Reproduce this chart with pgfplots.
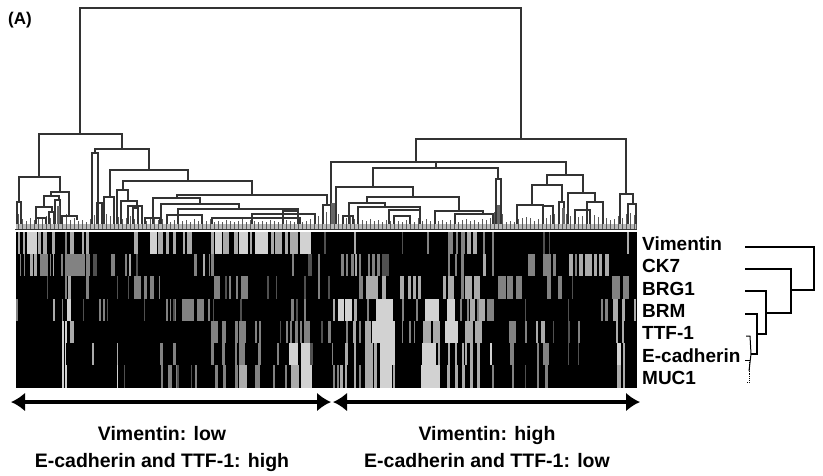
\documentclass[border=0pt]{standalone}
\usepackage{fontspec}
\setmainfont{Liberation Sans}
\usepackage{pgfplots}
\pgfplotsset{compat=1.18}
\usetikzlibrary{arrows.meta}
\definecolor{cW}{HTML}{D2D2D2}
\definecolor{cL}{HTML}{ABABAB}
\definecolor{cM}{HTML}{828282}
\definecolor{cD}{HTML}{505050}
\definecolor{den}{HTML}{333333}
% one heat-map row: colour, y centre, table of "x width"
\newcommand\hrow[3]{\addplot[draw=none,mark=none,forget plot,
  error bars/.cd,x dir=plus,x explicit,error mark=none,
  error bar style={draw=#1,line width=22.2pt,solid,line cap=butt}]
  table[row sep=\\,header=false,x index=0,x error index=1,y expr=#2]{#3};}
% one dendrogram node: xleft yleft ynode xright yright
\newcommand\den[5]{\addplot[den,line width=1.25pt,forget plot] coordinates {(#1,#2)(#1,#3)(#4,#3)(#4,#5)};}
\begin{document}
\begin{tikzpicture}
\begin{axis}[width=823pt,height=475pt,scale only axis,ticks=none,axis line style={draw=none},
  xmin=0,xmax=823,ymin=0,ymax=475,y dir=reverse,clip=false]
% heat-map background
\addplot[fill=black,draw=none,forget plot] coordinates {(16,232)(637,232)(637,388)(16,388)} --cycle;
% Vimentin
\hrow{cL}{243}{18.3 2\\22.7 2\\38 3\\43 4\\52 3\\70 4\\81.7 2\\86 3\\134 4\\158 5\\166 3\\172.7 3\\182.7 2\\186.7 5\\210.7 3\\223 6\\234 4\\250 2\\270.7 3\\275 7\\285 3\\290 8\\354 2\\467 4\\473 4\\627 2\\}
\hrow{cW}{243}{26.7 10\\150 7\\215 7\\239 9\\255 13\\300 11\\}
\hrow{cM}{243}{65 1.5\\427 2\\448 5\\456 2\\461 4\\483 2\\492 2\\}
\hrow{cD}{243}{324 2\\402 1\\543 2\\549 1\\}
% CK7
\hrow{cL}{265}{29.5 3\\34 3\\52.5 1.5\\129 2\\203 2\\318 2\\355 1.5\\483 3\\569 4\\579 4\\585 7\\594 3\\599 3\\605 4\\}
\hrow{cM}{265}{19.5 1.5\\23.5 1.5\\40 8\\49.5 1\\61 2\\65 20\\86 4\\111 4\\125 1.5\\194 2.5\\208.5 1.5\\211 2.5\\292 1.5\\318 2\\341 2.5\\346 2\\351 3\\359 2\\367.5 2.5\\372 3\\377 3\\448 1.5\\455 1.5\\461 3\\492 1.5\\528 7\\543 8\\553 2.5\\575 2\\}
\hrow{cD}{265}{93 4\\136 2\\308 4\\382 7\\}
% BRG1
\hrow{cL}{287.5}{68 2.5\\366 12\\382 4\\400 4\\408 3\\413 3\\418 3\\443 3\\448 6\\465 7\\474 6\\498 2\\}
\hrow{cM}{287.5}{65 1.5\\86 3\\134 7\\144 3\\150 4\\158.5 1.5\\214 6\\229 1.5\\236 2\\241 7\\318 1.5\\359 4\\461 3\\498 8\\507 6\\516 2.5\\519 3\\547 4\\558 4\\612 8\\623 6\\}
\hrow{cD}{287.5}{47 1\\116.7 1\\128 1\\225 1.5\\267 1.5\\276 1\\304 2\\328 1.5\\572 1\\}
% BRM
\hrow{cW}{310}{67 3.5\\333 2\\337.5 6\\345 7\\376 17\\425 14\\447 8\\}
\hrow{cL}{310}{52.7 2\\333 2\\354 3\\470 5\\479 6\\613 5\\622 3\\634 2\\}
\hrow{cM}{310}{16 1.5\\61.7 1\\99 2\\103 1.5\\166 1.5\\169.5 1\\174 1.5\\182 6.5\\189 5\\197 7\\208 2\\291 3\\304 2\\367 2\\402 1.5\\416 1.5\\460 1.5\\467 1.5\\477 1.5\\487 7\\490 3\\601 1.5\\605 3\\}
\hrow{cD}{310}{83 1\\107 1\\144 1\\173 1.5\\213 1\\240 1.5\\296 1.5\\525 1\\568 1\\}
% TTF-1
\hrow{cW}{332}{62 1.5\\65 1.5\\372 23\\445 13\\}
\hrow{cL}{332}{69.5 4\\353 3\\365 6\\423 8\\433 7\\465 8\\475 7\\536 1.5\\541 4\\616 2\\622 2\\}
\hrow{cM}{332}{211 7\\222 4\\235 3\\239 7\\255 2\\259 1.5\\286 1.5\\290 1.5\\295 3\\300 2\\304 6\\328 3\\346 1.5\\359 2\\402 1\\409 1.5\\413.5 1.5\\509 7\\525 1.5\\578 1.5\\}
\hrow{cD}{332}{280 1\\321 1.5\\553 1\\568 1.5\\}
% E-cadherin
\hrow{cW}{354}{62 1.5\\65 1\\289 9\\301 9\\380 15\\422 14\\490 1.5\\617 4\\}
\hrow{cL}{354}{92 2\\117 1\\345 2.5\\354 2\\365 8\\374 3\\438 1.5\\448 2\\455 2\\462 2\\465 2\\470 3\\477 3\\623 1.5\\}
\hrow{cM}{354}{160 3\\173 1.5\\174 1.5\\211 2.5\\222 2.5\\235 1.5\\239 6\\258 3\\277 2\\332 1\\510 4\\537 1.5\\543 6\\}
\hrow{cD}{354}{310 3\\568 1\\578 1\\}
% MUC1
\hrow{cW}{376.5}{62 1.5\\65 1.5\\117 1\\301 11\\380 12\\421 19\\}
\hrow{cL}{376.5}{239 8\\291 8\\333 2\\340 3\\345 2\\354 2\\365 8\\374 3\\393 2\\447 3\\455 3\\462 3\\470 3\\477 3\\617 4\\623 1.5\\}
\hrow{cM}{376.5}{161 2\\168 3.5\\176 2\\170 1.5\\195 1.5\\215 3\\223 3\\235 2.5\\255 5\\273 1.5\\285 2\\333 1.5\\337 1.5\\359 1.5\\492 2\\512 2\\537 1.5\\545 3\\}
\hrow{cD}{376.5}{124 1\\177 1.5\\191 1\\525 1\\}
% leaf band of the upper dendrogram
\addplot[fill=gray!55,draw=none,forget plot] coordinates {(16,224)(637,224)(637,229)(16,229)} --cycle;
\addplot[draw=none,mark=none,forget plot,error bars/.cd,y dir=plus,y explicit,error mark=none,
  error bar style={draw=gray!70!black,line width=1pt,solid}]
  table[row sep=\\,header=false,x index=0,y index=1,y error expr=229-\thisrowno{1}]{
18 214\\22 219\\26 221\\30 218\\34 220\\38 217\\42 219\\46 216\\50 218\\54 214\\58 212\\62 218\\66 214\\70 220\\74 218\\78 221\\82 220\\86 222\\90 219\\94 215\\98 213\\102 216\\106 214\\110 216\\114 215\\118 217\\122 219\\126 218\\130 216\\134 219\\138 218\\142 219\\146 221\\150 219\\154 218\\158 220\\162 219\\166 221\\170 222\\174 220\\178 220\\182 221\\186 220\\190 222\\194 219\\198 221\\202 222\\206 221\\210 219\\214 222\\218 221\\222 222\\226 220\\230 221\\234 222\\238 221\\242 219\\246 222\\250 220\\254 221\\258 222\\262 221\\266 222\\270 220\\274 221\\278 222\\282 221\\286 220\\290 221\\294 222\\298 220\\302 222\\306 221\\310 219\\314 217\\318 216\\322 215\\326 212\\330 214\\334 210\\338 214\\342 217\\346 218\\350 216\\354 219\\358 217\\362 220\\366 221\\370 219\\374 221\\378 220\\382 222\\386 220\\390 221\\394 219\\398 221\\402 222\\406 220\\410 221\\414 222\\418 218\\422 221\\426 219\\430 221\\434 219\\438 221\\442 220\\446 222\\450 220\\454 221\\458 222\\462 220\\466 219\\470 221\\474 220\\478 222\\482 219\\486 220\\490 218\\494 212\\498 208\\502 214\\506 222\\510 221\\514 222\\518 219\\522 218\\526 217\\530 218\\534 221\\538 219\\542 220\\546 218\\550 215\\554 214\\558 216\\562 210\\566 214\\570 216\\574 218\\578 217\\582 216\\586 218\\590 216\\594 215\\598 217\\602 216\\606 218\\610 220\\614 219\\618 216\\622 218\\626 214\\630 213\\634 215\\636 218\\}; 
\addplot[den,line width=1.6pt,forget plot] coordinates {(15,229.5)(637,229.5)};
% upper dendrogram
\den{80}{134}{8}{521}{139}
\den{39}{177}{134}{122}{149}
\den{19}{202}{177}{60}{192}
\den{51}{196}{192}{69}{216}
\den{44}{207}{196}{59}{200}
\den{36}{222}{207}{52}{212}
\den{49}{224}{212}{54}{224}
\den{55}{224}{200}{60}{224}
\den{17}{224}{202}{21}{224}
\den{62}{224}{216}{77}{220}
\den{36}{224}{218}{46}{224}
\den{95}{153}{149}{149}{170}
\den{92}{224}{153}{98}{224}
\den{110}{197}{170}{188}{181}
\den{104}{224}{197}{114}{224}
\den{97}{224}{203}{102}{224}
\den{123}{190}{181}{252}{195}
\den{117}{224}{190}{128}{201}
\den{121}{224}{201}{137}{206}
\den{128}{224}{206}{142}{224}
\den{133}{224}{208}{138}{224}
\den{177}{198}{195}{327}{205}
\den{153}{224}{198}{200}{204}
\den{161}{224}{204}{239}{209}
\den{178}{224}{209}{298}{211}
\den{167}{224}{215}{202}{224}
\den{212}{224}{218}{300}{224}
\den{252}{224}{214}{315}{224}
\den{283}{224}{211}{298}{224}
\den{323}{224}{205}{331}{224}
\den{145}{224}{218}{160}{224}
\den{416}{162}{139}{626}{194}
\den{331}{224}{162}{566}{175}
\den{373}{187}{168}{498}{179}
\addplot[den,line width=1.25pt,forget plot] coordinates {(436,162)(436,168)};
\den{496}{224}{179}{501}{224}
\den{336}{224}{187}{413}{197}
\den{367}{203}{197}{459}{211}
\den{349}{224}{203}{385}{207}
\den{358}{224}{207}{420}{224}
\den{389}{224}{210}{420}{224}
\den{394}{224}{216}{410}{224}
\den{435}{224}{211}{483}{214}
\den{455}{224}{214}{493}{224}
\den{547}{185}{175}{583}{193}
\den{532}{205}{185}{562}{202}
\den{517}{224}{205}{543}{224}
\den{553}{224}{206}{543}{206}
\den{559}{224}{202}{564}{224}
\den{568}{224}{193}{595}{202}
\den{587}{224}{202}{603}{224}
\den{575}{224}{210}{590}{224}
\den{620}{224}{194}{633}{204}
\den{628}{224}{204}{636}{224}
\den{343}{224}{216}{353}{224}
% towers of densely packed leaves
\addplot[gray!80!black,line width=3.5pt,forget plot] coordinates {(333,203)(333,224)};
\addplot[gray!80!black,line width=3pt,forget plot] coordinates {(498,205)(498,224)};
\addplot[gray!80!black,line width=3pt,forget plot] coordinates {(58,206)(58,224)};
\addplot[gray!80!black,line width=3pt,forget plot] coordinates {(563,208)(563,224)};
% dendrogram of the markers
\addplot[black,line width=1.6pt,forget plot] coordinates {(745,247)(814,247)(814,290)(791,290)};
\addplot[black,line width=1.6pt,forget plot] coordinates {(745,269)(791,269)(791,313)(766,313)};
\addplot[black,line width=1.3pt,forget plot] coordinates {(745,291)(766,291)(766,334)(757,334)};
\addplot[black,line width=1.2pt,forget plot] coordinates {(745,314)(757,314)(757,354)(751,354)};
\addplot[black,line width=1pt,forget plot] coordinates {(746,336)(750,336)(751,354)(749,371)};
\addplot[black,line width=.8pt,densely dotted,forget plot] coordinates {(749,360)(749,382)(746,382)};
\addplot[black,line width=.8pt,forget plot] coordinates {(745,360)(749,360)};
% arrows
\addplot[black,line width=3.4pt,forget plot,{Latex[length=14pt,width=19pt]}-{Latex[length=14pt,width=19pt]}] coordinates {(11,402)(331,402)};
\addplot[black,line width=3.4pt,forget plot,{Latex[length=14pt,width=19pt]}-{Latex[length=14pt,width=19pt]}] coordinates {(333,402)(640,402)};
% texts
\node[anchor=west,inner sep=0pt,font=\bfseries\fontsize{17}{19}\selectfont] at (axis cs:8,20) {(A)};
\tikzset{mk/.style={anchor=base west,inner sep=0pt,font=\bfseries\fontsize{19}{21}\selectfont}}
\node[mk] at (axis cs:642,250) {Vimentin};
\node[mk] at (axis cs:642,272) {CK7};
\node[mk] at (axis cs:642,295) {BRG1};
\node[mk] at (axis cs:642,317) {BRM};
\node[mk] at (axis cs:642,339) {TTF-1};
\node[mk] at (axis cs:642,362) {E-cadherin};
\node[mk] at (axis cs:642,384) {MUC1};
\tikzset{gp/.style={anchor=base,inner sep=0pt,font=\bfseries\fontsize{19.5}{21}\selectfont}}
\node[gp] at (axis cs:162,440) {Vimentin: low};
\node[gp] at (axis cs:162,467) {E-cadherin and TTF-1: high};
\node[gp] at (axis cs:487,440) {Vimentin: high};
\node[gp] at (axis cs:487,467) {E-cadherin and TTF-1: low};
\end{axis}
\end{tikzpicture}
\end{document}
